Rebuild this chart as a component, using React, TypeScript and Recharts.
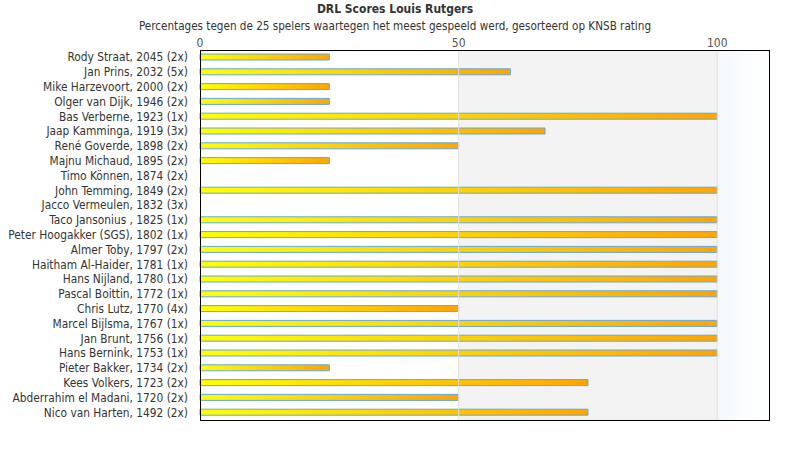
import React from 'react';
import { BarChart, Bar, XAxis, YAxis, ReferenceArea, ReferenceLine } from 'recharts';

const players = [
  'Rody Straat, 2045 (2x)',
  'Jan Prins, 2032 (5x)',
  'Mike Harzevoort, 2000 (2x)',
  'Olger van Dijk, 1946 (2x)',
  'Bas Verberne, 1923 (1x)',
  'Jaap Kamminga, 1919 (3x)',
  'René Goverde, 1898 (2x)',
  'Majnu Michaud, 1895 (2x)',
  'Timo Können, 1874 (2x)',
  'John Temming, 1849 (2x)',
  'Jacco Vermeulen, 1832 (3x)',
  'Taco Jansonius , 1825 (1x)',
  'Peter Hoogakker (SGS), 1802 (1x)',
  'Almer Toby, 1797 (2x)',
  'Haitham Al-Haider, 1781 (1x)',
  'Hans Nijland, 1780 (1x)',
  'Pascal Boittin, 1772 (1x)',
  'Chris Lutz, 1770 (4x)',
  'Marcel Bijlsma, 1767 (1x)',
  'Jan Brunt, 1756 (1x)',
  'Hans Bernink, 1753 (1x)',
  'Pieter Bakker, 1734 (2x)',
  'Kees Volkers, 1723 (2x)',
  'Abderrahim el Madani, 1720 (2x)',
  'Nico van Harten, 1492 (2x)',
];

const scores = [25, 60, 25, 25, 100, 66.7, 50, 25, 0, 100, 0, 100, 100, 100, 100, 100, 100, 50, 100, 100, 100, 25, 75, 50, 75];

const xTicks = [0, 50, 100];

const data = players.map((name, i) => ({ name, score: scores[i] }));

const FONT = '"DejaVu Sans Condensed", "DejaVu Sans", sans-serif';

// plain one-line tick, recharts would wrap the long names otherwise
const PlayerTick = (props: any) => {
  const { x, y, payload } = props;
  return (
    <text x={x - 10} y={y} textAnchor="end" dominantBaseline="central" fontSize={11.8} fill="#333">
      {payload.value}
    </text>
  );
};

export default function App() {
  return (
    <div style={{ position: 'absolute', left: 0, top: 0, width: 790, height: 450, fontFamily: FONT, background: '#fff' }}>
      <div style={{ position: 'absolute', top: 2, width: 790, textAlign: 'center', fontSize: 12, fontWeight: 'bold', color: '#333' }}>
        DRL Scores Louis Rutgers
      </div>
      <div style={{ position: 'absolute', top: 19, width: 790, textAlign: 'center', fontSize: 11.6, color: '#333' }}>
        Percentages tegen de 25 spelers waartegen het meest gespeeld werd, gesorteerd op KNSB rating
      </div>
      <BarChart
        width={790}
        height={450}
        data={data}
        layout="vertical"
        margin={{ top: 30, right: 21, bottom: 30, left: 0 }}
        style={{ fontFamily: FONT }}
      >
        <defs>
          <linearGradient id="barFill" x1="0" y1="0" x2="1" y2="0">
            <stop offset="0%" stopColor="#ffff00" />
            <stop offset="100%" stopColor="#ffa500" />
          </linearGradient>
          <linearGradient id="topBand" x1="0" y1="0" x2="1" y2="0">
            <stop offset="0%" stopColor="#f5f9fd" />
            <stop offset="100%" stopColor="#ffffff" />
          </linearGradient>
        </defs>
        <ReferenceArea x1={50} x2={100} fill="#f3f3f3" fillOpacity={1} strokeOpacity={0} />
        <ReferenceArea x1={100} x2={110} fill="url(#topBand)" fillOpacity={1} strokeOpacity={0} />
        <ReferenceLine x={50} stroke="#e2e2e2" />
        <ReferenceLine x={100} stroke="#e2e2e2" />
        <XAxis
          type="number"
          orientation="top"
          domain={[0, 110]}
          ticks={xTicks}
          height={20}
          tickLine={false}
          axisLine={false}
          tickSize={0}
          tickMargin={3}
          tick={{ fontSize: 12, fill: '#555' }}
        />
        <YAxis
          type="category"
          dataKey="name"
          width={200}
          interval={0}
          tickLine={false}
          axisLine={false}
          tickSize={0}
          tick={<PlayerTick />}
        />
        <Bar dataKey="score" barSize={6} fill="url(#barFill)" stroke="#5ea8e8" strokeWidth={1} isAnimationActive={false} />
      </BarChart>
      <div style={{ position: 'absolute', left: 200, top: 50, width: 568, height: 369, border: '1px solid #000', pointerEvents: 'none' }} />
    </div>
  );
}
